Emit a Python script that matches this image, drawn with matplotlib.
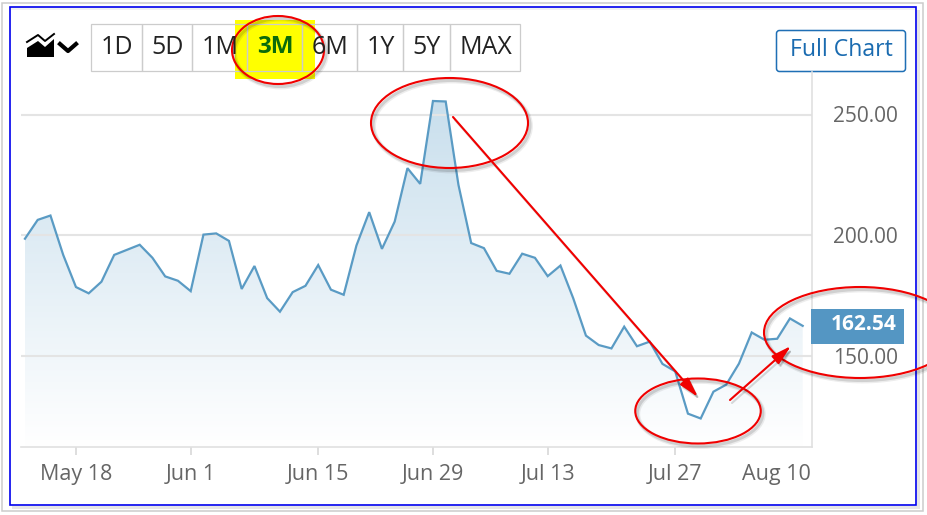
#!/usr/bin/env python3
"""
Stock price, 3 month view, with hand drawn red circles and arrows on top.
"""

import matplotlib
matplotlib.use("Agg")
import matplotlib.pyplot as plt
import numpy as np
from matplotlib.patches import Ellipse, FancyArrowPatch, FancyBboxPatch, Polygon, Rectangle

# --- Data ---
prices = [
    198.6, 206.4, 208.2, 191.9, 178.6, 176.0, 180.8, 191.9, 194.0, 196.1,
    190.7, 183.0, 181.2, 176.9, 200.3, 200.8, 197.7, 177.8, 187.3, 174.0,
    168.4, 176.5, 179.1, 187.7, 177.5, 175.4, 195.8, 209.6, 194.4, 205.7,
    227.8, 221.3, 255.6, 255.4, 220.9, 196.8, 194.7, 185.3, 184.1, 192.4,
    190.7, 183.1, 187.5, 174.0, 158.5, 154.6, 153.2, 162.2, 154.1, 156.0,
    146.8, 143.7, 126.2, 124.2, 135.3, 138.2, 146.9, 159.8, 156.8, 157.2,
    165.6, 162.54,
]
tick_idx = [4, 13, 23, 32, 41, 51]
tick_labels = ["May 18", "Jun 1", "Jun 15", "Jun 29", "Jul 13", "Jul 27"]
y_ticks = [150, 200, 250]
y_labels = ["150.00", "200.00", "250.00"]
buttons = ["1D", "5D", "1M", "3M", "6M", "1Y", "5Y", "MAX"]
button_edges = [91.5, 142.5, 192.5, 247.5, 302.5, 357.5, 403.5, 450.5, 520.5]
last_label = "162.54"
last_tick = "Aug 10"

W, H = 927, 515
plt.rcParams["font.family"] = ["Open Sans", "DejaVu Sans"]
GREY = "#666666"
LINE = "#5a9bc4"
RED = "#f00000"

fig = plt.figure(figsize=(W / 100, H / 100), dpi=100, facecolor="white")

# full figure axes in pixels, for the page furniture and the annotations
bg = fig.add_axes([0, 0, 1, 1], zorder=0)
bg.set_xlim(0, W)
bg.set_ylim(H, 0)
bg.axis("off")
top = fig.add_axes([0, 0, 1, 1], zorder=5)
top.set_xlim(0, W)
top.set_ylim(H, 0)
top.axis("off")
top.patch.set_alpha(0)

# chart area
left, right, ytop, ybot = 21, 812, 72, 447
ymin, ymax = 112.4, 267.6
ax = fig.add_axes([left / W, 1 - ybot / H, (right - left) / W, (ybot - ytop) / H], zorder=2)
ax.patch.set_alpha(0)
x = np.arange(len(prices))
xlim = (-0.31, 61.73)

# gradient under the line
grad = np.linspace(0.0, 1.0, 256).reshape(-1, 1)
cmap = matplotlib.colors.LinearSegmentedColormap.from_list(
    "fade", ["#c9dfed", "#ffffff"]
)
img = ax.imshow(
    grad, cmap=cmap, aspect="auto", extent=(x[0], x[-1], ymin, 256), zorder=1
)
poly = ax.fill_between(x, prices, ymin, color="none")
img.set_clip_path(poly.get_paths()[0], transform=ax.transData)
ax.set_xlim(*xlim)
ax.set_ylim(ymin, ymax)

ax.plot(x, prices, color=LINE, lw=1.6, zorder=3, solid_joinstyle="miter")

ax.set_yticks(y_ticks)
ax.set_yticklabels([])
ax.grid(axis="y", color="#e4e4e4", lw=1.5)
for gl in ax.get_ygridlines():
    gl.set_zorder(2)
ax.tick_params(axis="y", length=0)
ax.set_xticks(tick_idx)
ax.set_xticklabels([])
ax.tick_params(axis="x", length=6, width=1.2, color="#d8d8d8")
for s in ["top", "left"]:
    ax.spines[s].set_visible(False)
for s in ["right", "bottom"]:
    ax.spines[s].set_color("#e0e0e0")
    ax.spines[s].set_linewidth(1.2)

# axis labels, placed by hand since the last one is pushed inwards
for i, lab in zip(tick_idx, tick_labels):
    ax.annotate(lab, (i, 0), xycoords=("data", "axes fraction"), xytext=(0, -24),
                textcoords="offset points", ha="center", va="baseline",
                fontsize=15.5, color=GREY)
top.text(776, 480, last_tick, ha="center", va="baseline", fontsize=15.5, color=GREY)
for v, lab in zip(y_ticks, y_labels):
    ax.annotate(lab, (1, v), xycoords=("axes fraction", "data"), xytext=(15, -1.5),
                textcoords="offset points", ha="left", va="center",
                fontsize=15, color=GREY)

# page borders, with the soft shadow of the screenshot frame
bg.add_patch(Rectangle((2.5, 2.5), 921, 508, fc="none", ec="#cccccc", lw=1.1))
bg.add_patch(Rectangle((12, 506), 908, 3, fc="#e6e6e6", ec="none"))
bg.add_patch(Rectangle((917, 10), 3, 499, fc="#e6e6e6", ec="none"))
bg.add_patch(Rectangle((11, 7), 905, 3, fc="#f2f2f2", ec="none"))
bg.add_patch(Rectangle((10.5, 6.5), 906, 498.5, fc="none", ec="#0000ee", lw=1.2))

# range buttons
bg.add_patch(Rectangle((235, 20), 80, 59, fc="#ffff00", ec="none"))
for i, b in enumerate(buttons):
    l, r = button_edges[i], button_edges[i + 1]
    bg.add_patch(Rectangle((l, 23.5), r - l, 47, fc="none", ec="#cccccc", lw=0.9))
    sel = b == "3M"
    top.text((l + r) / 2, 47, b, ha="center", va="center", fontsize=17.5 if sel else 18,
             color="#0b6b0b" if sel else "#222222",
             fontweight="bold" if sel else "normal")

# chart type icon: small area chart and chevron
top.add_patch(Polygon([(27, 57), (27, 48), (38, 41), (45, 47), (54, 39), (54, 57)],
                      fc="black", ec="none"))
top.plot([27, 38, 45, 54], [42, 35, 41, 34], color="black", lw=1.4)
top.plot([60, 68, 76], [44, 51, 44], color="black", lw=3)

# full chart button
bg.add_patch(FancyBboxPatch(
    (776.5, 30.5), 129, 41, boxstyle="round,pad=0,rounding_size=3",
    fc="white", ec="#1f6fb5", lw=1.1))
top.text(841, 50, "Full Chart", ha="center", va="center", fontsize=16.6, color="#1a6bb0")

# last price flag
top.add_patch(Rectangle((811.5, 309), 93, 35, fc="#5496c3", ec="none"))
top.text(896.5, 325, last_label, ha="right", va="center", fontsize=15,
         fontweight="bold", color="white")


def shadow_ellipse(cx, cy, w, h):
    # soft grey offset copies, then the red outline
    for off, lw, a in [(3, 3.5, 0.07), (2.5, 2.2, 0.12)]:
        top.add_patch(Ellipse((cx + off - 0.5, cy + off), w, h, fc="none",
                              ec="#000000", lw=lw, alpha=a))
    top.add_patch(Ellipse((cx, cy), w, h, fc="none", ec=RED, lw=1.5))


def red_arrow(x0, y0, x1, y1):
    style = "-|>,head_length=1.0,head_width=0.27"
    top.add_patch(FancyArrowPatch((x0 + 2, y0 + 3), (x1 + 2, y1 + 3), arrowstyle=style,
                                  mutation_scale=12, color="black", alpha=0.14, lw=1.5,
                                  shrinkA=0, shrinkB=0))
    top.add_patch(FancyArrowPatch((x0, y0), (x1, y1), arrowstyle=style, mutation_scale=12,
                                  color=RED, lw=1.5, shrinkA=0, shrinkB=0))


shadow_ellipse(278, 50, 92, 68)
shadow_ellipse(449.5, 123, 157, 90)
shadow_ellipse(698, 411, 125.5, 65)
shadow_ellipse(860, 332.5, 192, 91)
red_arrow(453, 117, 698, 397)
red_arrow(730, 400, 791, 346)

fig.savefig("out.png", dpi=100, facecolor="white")
